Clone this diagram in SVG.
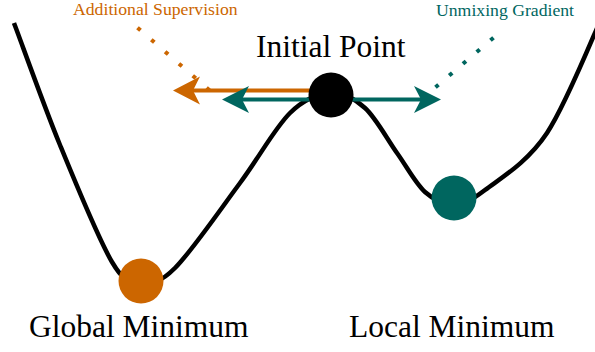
<svg xmlns="http://www.w3.org/2000/svg" width="595" height="352" viewBox="0 0 595 352">
  <style>
    .lbl { font-family: "Liberation Serif", "Times New Roman", serif; }
    .big { font-size: 31.5px; fill: #000; }
    .small { font-size: 17.7px; }
    .orange { fill: #CC6600; }
    .teal { fill: #00665F; }
    .landscape { fill: none; stroke: #000; stroke-width: 4.5; }
    .arrow-o { fill: none; stroke: #CC6600; stroke-width: 4; }
    .arrow-t { fill: none; stroke: #00665F; stroke-width: 4; }
    .dots-o { fill: none; stroke: #CC6600; stroke-width: 4; stroke-dasharray: 4 14.3; }
    .dots-t { fill: none; stroke: #00665F; stroke-width: 4; stroke-dasharray: 4 14.1; }
  </style>
  <defs>
    <marker id="head-o" markerUnits="userSpaceOnUse" viewBox="0 -15 30 30" markerWidth="30" markerHeight="30" refX="7" refY="0" orient="auto">
      <path d="M27 0 L0 -14 L7 0 L0 14 Z" fill="#CC6600"/>
    </marker>
    <marker id="head-t" markerUnits="userSpaceOnUse" viewBox="0 -15 30 30" markerWidth="30" markerHeight="30" refX="7" refY="0" orient="auto">
      <path d="M27 0 L0 -13.5 L7 0 L0 13.5 Z" fill="#00665F"/>
    </marker>
  </defs>

  <g id="landscape">
    <path class="landscape" d="M14 23 C21.7 43.3 43.7 105.2 60 145 C76.3 184.8 98.5 239.2 112 262 C125.5 284.8 130.5 281 141 282 C151.5 283 158.5 284.5 175 268 C191.5 251.5 220.8 208.8 240 183 C259.2 157.2 274.8 128 290 113 C305.2 98 318.5 93.8 331 93 C343.5 92.2 354 98 365 108 C376 118 387 139 397 153 C407 167 415.5 183.5 425 192 C434.5 200.5 444 204.3 454 204 C464 203.7 469.5 201.8 485 190 C500.5 178.2 527 163 547 133 C567 103 595.3 30.5 605 10"/>
  </g>

  <g id="connectors">
    <line class="arrow-o" x1="331" y1="90.5" x2="193" y2="90.5" marker-end="url(#head-o)"/>
    <line class="arrow-t" x1="331" y1="99.5" x2="242" y2="99.5" marker-end="url(#head-t)"/>
    <line class="arrow-t" x1="331" y1="99.5" x2="421" y2="99.5" marker-end="url(#head-t)"/>
    <line class="dots-o" x1="137.5" y1="27.7" x2="209.5" y2="90.3"/>
    <line class="dots-t" x1="493.5" y1="37.7" x2="435.5" y2="87.3"/>
  </g>

  <g id="initial-point">
    <circle cx="331" cy="95" r="22.5" fill="#000"/>
    <text class="lbl big" x="256" y="57">Initial Point</text>
  </g>

  <g id="global-minimum">
    <circle cx="141" cy="281" r="22.5" fill="#CC6600"/>
    <text class="lbl big" x="29" y="337">Global Minimum</text>
  </g>

  <g id="local-minimum">
    <circle cx="454" cy="198" r="22.5" fill="#00665F"/>
    <text class="lbl big" x="349" y="337">Local Minimum</text>
  </g>

  <g id="additional-supervision">
    <text class="lbl small orange" x="73" y="15">Additional Supervision</text>
  </g>

  <g id="unmixing-gradient">
    <text class="lbl small teal" x="436" y="15.7">Unmixing Gradient</text>
  </g>
</svg>
